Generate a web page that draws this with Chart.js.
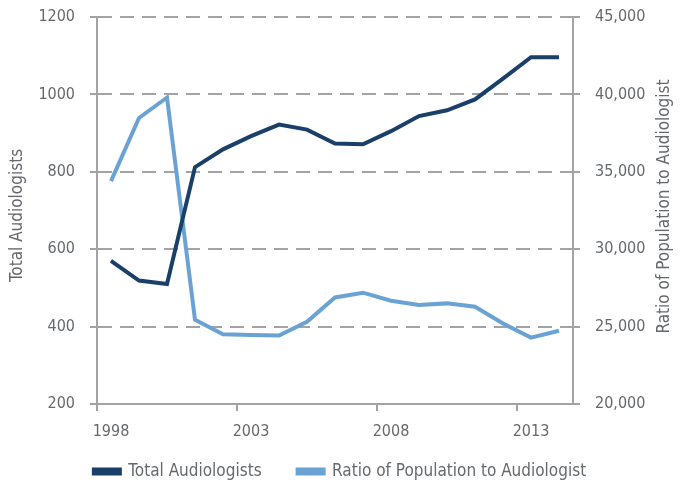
<!DOCTYPE html>
<html>
<head>
<meta charset="utf-8">
<script src="https://cdn.jsdelivr.net/npm/chart.js@4.4.1/dist/chart.umd.min.js"></script>
<style>
  html, body { margin: 0; padding: 0; background: #fff; }
  #wrap { width: 680px; height: 486px; }
</style>
</head>
<body>
<div id="wrap"><canvas id="lineChart" width="680" height="486"></canvas></div>
<script>
// du lieu doc tu hinh
var years = ['1998', '1999', '2000', '2001', '2002', '2003', '2004', '2005', '2006',
             '2007', '2008', '2009', '2010', '2011', '2012', '2013', '2014'];
var totalAudiologists = [570, 519, 510, 812, 858, 892, 922, 909, 873, 871, 905, 944, 959, 987, 1041, 1096, 1096];
var ratioPopulation = [34400, 38480, 39800, 25440, 24510, 24450, 24420, 25310, 26880, 27190, 26670, 26390, 26500, 26280, 25200, 24290, 24730];
var leftTicks = [200, 400, 600, 800, 1000, 1200];
var rightTicks = [20000, 25000, 30000, 35000, 40000, 45000];

var FONT = "'Liberation Sans Narrow', 'DejaVu Sans Condensed', 'Roboto Condensed', sans-serif";
var TEXT = '#66696c';
var GRID = '#a3a3a5';

// tieu de hai truc, doc tu duoi len
var axisTitles = {
    id: 'axisTitles',
    afterDraw: function (chart) {
        var ctx = chart.ctx;
        var area = chart.chartArea;
        var mid = (area.top + area.bottom) / 2;
        [[18, mid + 5, 'Total Audiologists'], [665, mid - 4, 'Ratio of Population to Audiologist']].forEach(function (t) {
            ctx.save();
            ctx.fillStyle = TEXT;
            ctx.font = '17px ' + FONT;
            ctx.textAlign = 'center';
            ctx.textBaseline = 'middle';
            ctx.translate(t[0], t[1]);
            ctx.rotate(-Math.PI / 2);
            ctx.fillText(t[2], 0, 0);
            ctx.restore();
        });
    }
};

// truc doc: co dinh be rong, bot phan dem tren/duoi do ticks.padding sinh ra
function fitY(width) {
    return function (s) {
        s.width = width;
        s.paddingTop = 10;
        s.paddingBottom = 10;
    };
}

var ctx = document.getElementById('lineChart').getContext('2d');
var chart = new Chart(ctx, {
    type: 'line',
    data: {
        labels: years,
        datasets: [{
            label: 'Total Audiologists',
            data: totalAudiologists,
            yAxisID: 'y',
            borderColor: '#1a3f68',
            backgroundColor: '#1a3f68',
            borderWidth: 4,
            pointRadius: 0,
            fill: false,
            tension: 0
        },
        {
            label: 'Ratio of Population to Audiologist',
            data: ratioPopulation,
            yAxisID: 'y1',
            borderColor: '#6aa3d3',
            backgroundColor: '#6aa3d3',
            borderWidth: 4,
            pointRadius: 0,
            fill: false,
            tension: 0
        }]
    },
    options: {
        responsive: false,
        animation: false,
        layout: { padding: { top: 17, bottom: -4, left: 0, right: 0 } },
        plugins: {
            tooltip: { enabled: false },
            legend: {
                position: 'bottom',
                labels: {
                    color: TEXT,
                    font: { family: FONT, size: 17 },
                    boxWidth: 26,
                    boxHeight: 4,
                    padding: 36
                }
            }
        },
        scales: {
            x: {
                offset: true,
                grid: {
                    offset: true,
                    drawOnChartArea: false,
                    tickLength: 7,
                    lineWidth: 2,
                    tickColor: function (c) { return c.index % 5 === 0 ? GRID : 'rgba(0,0,0,0)'; }
                },
                border: { color: GRID, width: 2 },
                ticks: {
                    autoSkip: false,
                    maxRotation: 0,
                    color: TEXT,
                    font: { family: FONT, size: 16 },
                    padding: 11,
                    callback: function (v, i) { return i % 5 === 0 ? years[i] : ''; }
                },
                afterFit: function (s) {
                    s.height = 23;
                    // nhan nam nam duoi truc, khong cat theo chieu cao truc
                    s._computeLabelArea = function () { return undefined; };
                }
            },
            y: {
                position: 'left',
                min: 200,
                max: 1200,
                afterBuildTicks: function (s) { s.ticks = leftTicks.map(function (v) { return { value: v }; }); },
                grid: {
                    color: GRID,
                    lineWidth: 2,
                    tickLength: 7,
                    tickBorderDash: [],
                    tickColor: GRID
                },
                border: { color: GRID, width: 2, dash: [14, 8] },
                ticks: {
                    color: TEXT,
                    font: { family: FONT, size: 16 },
                    padding: 15,
                    callback: function (v) { return String(v); }
                },
                afterFit: fitY(97)
            },
            y1: {
                position: 'right',
                min: 20000,
                max: 45000,
                afterBuildTicks: function (s) { s.ticks = rightTicks.map(function (v) { return { value: v }; }); },
                grid: {
                    drawOnChartArea: false,
                    tickLength: 7,
                    lineWidth: 2,
                    tickColor: GRID
                },
                border: { color: GRID, width: 2 },
                ticks: {
                    color: TEXT,
                    font: { family: FONT, size: 16 },
                    padding: 15,
                    callback: function (v) { return v.toLocaleString('en-US'); }
                },
                afterFit: fitY(107)
            }
        }
    },
    plugins: [axisTitles]
});
</script>
</body>
</html>
